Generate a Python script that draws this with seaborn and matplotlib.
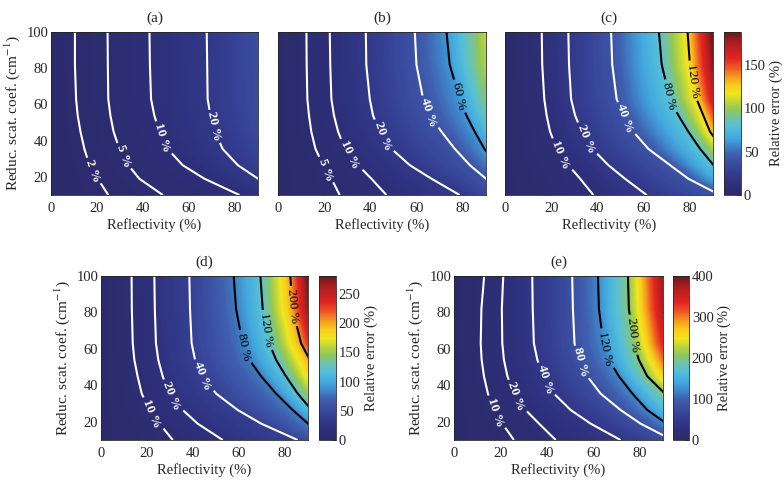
"""
Relative error maps: reflectivity vs reduced scattering coefficient, five cases
"""

import numpy as np
import matplotlib
matplotlib.use('Agg')
import matplotlib.pyplot as plt
import seaborn as sns
from matplotlib.colors import LinearSegmentedColormap, Normalize, to_rgba
from matplotlib.cm import ScalarMappable

sns.set_style('ticks')
plt.rcParams['font.family'] = ['Liberation Serif', 'DejaVu Serif']
plt.rcParams['mathtext.fontset'] = 'stix'
plt.rcParams['font.size'] = 10.5

# reduced scattering coefficient rows (cm^-1), bottom to top
scat_rows = [10, 19, 26.5, 35.5, 45, 54, 63, 82, 100]

# error levels (%) and reflectivity (%) where each level is reached on each row
# (values past 90 % are outside the plotted range)
levels_a = [0, 2, 5, 10, 20, 40]
refl_a = [
    [0, 24.9, 48.6, 81.9, 105.0, 140.0],
    [0, 20.3, 38.4, 66.7, 90.0, 120.0],
    [0, 16.7, 33.6, 57.2, 81.2, 110.0],
    [0, 14.5, 29.7, 50.7, 74.6, 104.0],
    [0, 12.8, 27.2, 47.1, 71.3, 100.0],
    [0, 11.6, 25.8, 44.9, 69.3, 98.0],
    [0, 10.9, 24.9, 43.5, 68.1, 97.0],
    [0, 10.4, 24.7, 43.0, 67.9, 96.5],
    [0, 10.4, 24.6, 42.8, 67.7, 96.0],
]

levels_b = [0, 5, 10, 20, 40, 60, 110]
refl_b = [
    [0, 26.7, 46.9, 78.6, 100.0, 115.0, 145.0],
    [0, 23.1, 40.4, 66.4, 90.0, 102.0, 128.0],
    [0, 19.5, 34.6, 57.0, 83.0, 95.0, 118.0],
    [0, 16.2, 28.9, 49.1, 76.5, 89.3, 110.0],
    [0, 14.4, 26.0, 44.0, 70.7, 85.1, 103.0],
    [0, 13.4, 24.2, 41.1, 65.7, 81.5, 99.0],
    [0, 12.7, 23.1, 39.7, 62.8, 78.6, 96.0],
    [0, 12.4, 22.6, 38.2, 59.9, 74.3, 92.0],
    [0, 12.3, 22.4, 38.0, 59.2, 72.9, 91.0],
]

levels_c = [0, 10, 20, 40, 80, 120, 190]
refl_c = [
    [0, 38.2, 61.3, 93.0, 108.0, 122.0, 138.0],
    [0, 32.5, 51.9, 79.3, 97.0, 108.0, 122.0],
    [0, 27.4, 44.7, 71.4, 90.2, 100.0, 113.0],
    [0, 22.4, 37.8, 62.0, 84.4, 94.0, 106.0],
    [0, 19.5, 33.2, 55.5, 79.3, 88.7, 100.0],
    [0, 18.0, 30.3, 51.2, 75.0, 85.8, 97.0],
    [0, 17.0, 28.6, 48.3, 71.4, 82.9, 94.0],
    [0, 16.1, 27.7, 46.4, 67.8, 80.0, 91.5],
    [0, 15.9, 27.4, 45.9, 66.6, 79.0, 90.2],
]

levels_d = [0, 10, 20, 40, 80, 120, 200, 285]
refl_d = [
    [0, 31.2, 52.9, 85.5, 100.0, 110.0, 126.0, 140.0],
    [0, 25.4, 42.0, 69.6, 90.0, 98.0, 113.0, 126.0],
    [0, 21.0, 35.5, 59.4, 83.3, 91.5, 105.0, 117.0],
    [0, 17.7, 29.7, 50.0, 76.1, 85.5, 99.0, 110.0],
    [0, 15.9, 26.8, 44.2, 69.6, 80.4, 94.0, 104.0],
    [0, 14.5, 24.9, 40.9, 64.5, 76.1, 90.8, 100.0],
    [0, 13.8, 23.9, 39.4, 61.6, 73.2, 87.0, 96.0],
    [0, 13.4, 23.4, 38.7, 58.7, 70.3, 83.3, 92.0],
    [0, 13.3, 23.2, 38.4, 57.7, 69.3, 82.3, 90.5],
]

levels_e = [0, 10, 20, 40, 80, 120, 200, 390]
refl_e = [
    [0, 25.8, 43.8, 71.7, 94.0, 102.0, 115.0, 145.0],
    [0, 20.8, 36.6, 58.8, 80.3, 91.5, 104.0, 128.0],
    [0, 17.2, 30.8, 50.2, 71.7, 83.2, 97.0, 118.0],
    [0, 14.6, 25.8, 43.0, 63.1, 76.8, 90.8, 110.0],
    [0, 12.9, 23.0, 38.5, 57.4, 71.0, 83.2, 104.0],
    [0, 11.9, 21.5, 35.9, 53.8, 66.7, 79.6, 99.0],
    [0, 11.5, 20.8, 34.4, 51.9, 64.3, 77.5, 95.0],
    [0, 11.8, 20.6, 33.9, 51.2, 62.4, 75.3, 92.0],
    [0, 13.0, 21.2, 33.7, 50.9, 62.0, 74.9, 91.0],
]

# labelled contours (white, black) and where their labels sit
lines_white = {'a': [2, 5, 10, 20], 'b': [5, 10, 20, 40], 'c': [10, 20, 40],
               'd': [10, 20, 40], 'e': [10, 20, 40, 80]}
lines_black = {'a': [], 'b': [60], 'c': [80, 120], 'd': [80, 120, 200], 'e': [120, 200]}
label_pos = {
    'a': [(18.8, 23.6), (32.6, 31.9), (50.0, 42.0), (74.6, 48.4)],
    'b': [(22.4, 24.5), (32.5, 32.8), (48.3, 43.8), (69.3, 56.7), (81.5, 65.0)],
    'c': [(25.2, 32.8), (37.5, 42.0), (54.1, 53.0), (73.6, 65.0), (83.4, 73.3)],
    'd': [(23.2, 25.0), (32.2, 35.1), (47.1, 46.1), (63.8, 61.6), (75.4, 70.7), (85.5, 83.5)],
    'e': [(19.8, 26.0), (28.0, 34.6), (41.6, 44.2), (57.1, 53.4), (67.7, 60.7), (80.3, 68.0)],
}

color_max = {'a': 188, 'b': 188, 'c': 188, 'd': 281, 'e': 400}
cbar_ticks = {'c': [0, 50, 100, 150], 'd': [0, 50, 100, 150, 200, 250],
              'e': [0, 100, 200, 300, 400]}

# jet-like map as it looks in print
cmap = LinearSegmentedColormap.from_list('printjet', [
    (0.00, '#2b2a6b'), (0.06, '#2e2f7a'), (0.12, '#323a8c'), (0.19, '#3a4c9f'),
    (0.25, '#3f5fae'), (0.30, '#3f86c9'), (0.35, '#42a8de'), (0.42, '#55bfd8'),
    (0.47, '#6fc4a8'), (0.52, '#8fc75a'), (0.57, '#bcd53a'), (0.62, '#f0e51f'),
    (0.67, '#f8cf1b'), (0.72, '#f6a11d'), (0.78, '#ef5a26'), (0.84, '#e3241f'),
    (0.93, '#b01d21'), (1.00, '#6b181b'),
])
cmap.set_over('#6b181b')


def draw_panel(ax, key, levels, refl):
    X = np.array(refl, dtype=float)
    Y = np.repeat(np.array(scat_rows, dtype=float)[:, None], X.shape[1], axis=1)
    Z = np.tile(np.array(levels, dtype=float), (X.shape[0], 1))
    vmax = color_max[key]

    # smooth colour field: many thin filled bands
    fill = ax.contourf(X, Y, Z, levels=np.linspace(0, vmax, 300), cmap=cmap,
                       vmin=0, vmax=vmax, extend='max')
    fill.set_edgecolor('face')
    fill.set_linewidth(0.4)

    lines = lines_white[key] + lines_black[key]
    colors = ['white'] * len(lines_white[key]) + ['black'] * len(lines_black[key])
    cs = ax.contour(X, Y, Z, levels=np.array(lines, dtype=float) + 1e-3,
                    colors=colors, linewidths=1.5)
    texts = ax.clabel(cs, manual=label_pos[key], inline=True, inline_spacing=3,
                      fmt=lambda v: f'{v:.0f} %', fontsize=9.5)
    for t in texts:
        t.set_family(['Liberation Serif', 'DejaVu Serif'])
        if to_rgba(t.get_color())[0] > 0.5:
            t.set_fontweight('bold')

    ax.set_xlim(0, 90)
    ax.set_ylim(10, 100)
    ax.set_xticks([0, 20, 40, 60, 80])
    ax.set_yticks([20, 40, 60, 80, 100])
    ax.tick_params(direction='in', top=True, right=True, length=3, width=0.6,
                   labelsize=10.5)
    ax.tick_params(axis='x', pad=5)
    ax.tick_params(axis='y', pad=2)
    for sp in ax.spines.values():
        sp.set_linewidth(0.6)
    ax.set_title(f'({key})', fontsize=11, pad=7)
    ax.set_xlabel('Reflectivity (%)', fontsize=10.5, labelpad=2)


fig = plt.figure(figsize=(7.84, 4.83), dpi=100)

W, H = 784.0, 483.0
panels = {
    'a': (levels_a, refl_a, (51, 32, 207, 163), None),
    'b': (levels_b, refl_b, (278, 32, 208, 163), None),
    'c': (levels_c, refl_c, (505, 32, 208, 163), (724, 17)),
    'd': (levels_d, refl_d, (101, 276, 207, 164), (319, 17)),
    'e': (levels_e, refl_e, (454, 276, 209, 164), (673, 16)),
}

for key, (levels, refl, box, cbox) in panels.items():
    x0, y0, w, h = box
    ax = fig.add_axes([x0 / W, 1 - (y0 + h) / H, w / W, h / H])
    draw_panel(ax, key, levels, refl)

    if key in ('a', 'd', 'e'):
        ax.set_ylabel(r'Reduc. scat. coef. (cm$^{-1}$)', fontsize=11, labelpad=3)
    else:
        ax.tick_params(labelleft=False)

    if cbox is not None:
        cx, cw = cbox
        cax = fig.add_axes([cx / W, 1 - (y0 + h) / H, cw / W, h / H])
        sm = ScalarMappable(norm=Normalize(0, color_max[key]), cmap=cmap)
        cb = fig.colorbar(sm, cax=cax, ticks=cbar_ticks[key])
        cb.outline.set_linewidth(0.6)
        cax.tick_params(direction='in', length=3, width=0.6, pad=2, labelsize=10.5)
        cb.set_label('Relative error (%)', fontsize=10.5, labelpad=3)

fig.savefig('out.png', dpi=100)
plt.close(fig)
